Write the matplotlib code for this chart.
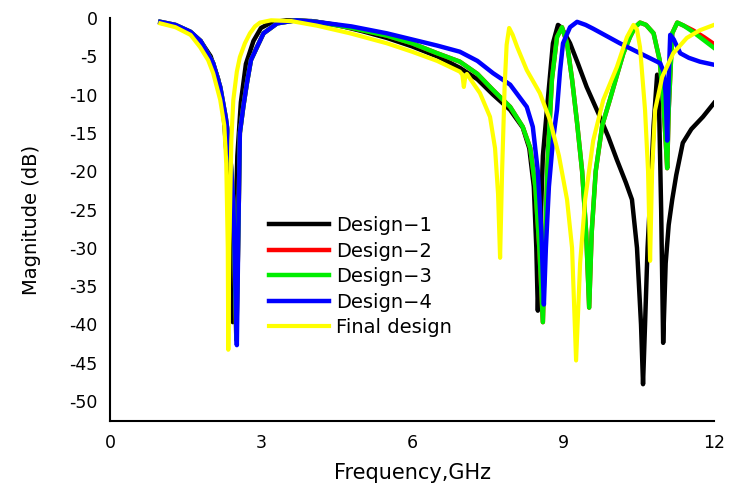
import matplotlib
matplotlib.use("Agg")
import matplotlib.pyplot as plt

plt.rcParams["font.family"] = ["DejaVu Sans"]
plt.rcParams["axes.unicode_minus"] = False

# Design-1
f1 = [1.0, 1.3, 1.6, 1.8, 2.0, 2.15, 2.25, 2.33, 2.39, 2.44, 2.48, 2.53, 2.6, 2.7, 2.85, 3.0, 3.2, 3.5,
      4.0, 4.5, 5.0, 5.5, 6.0, 6.5, 6.95, 7.3, 7.61, 7.95, 8.2, 8.33, 8.42, 8.47, 8.5, 8.54, 8.6, 8.68,
      8.8, 8.9, 8.96, 9.05, 9.14, 9.3, 9.47, 9.7, 9.9, 10.07, 10.25, 10.37, 10.47, 10.55, 10.59, 10.63,
      10.68, 10.73, 10.8, 10.87, 10.91, 10.95, 10.99, 11.04, 11.1, 11.17, 11.25, 11.38, 11.55, 11.78, 12.0]
m1 = [-0.6, -1.0, -1.9, -3.0, -5.0, -8.0, -12, -19, -30, -39.7, -30, -18, -11, -6.0, -3.0, -1.3, -0.6, -0.3,
      -0.4, -0.9, -1.7, -2.6, -3.7, -5.0, -6.5, -8.0, -10.0, -12.0, -14.3, -17, -22, -30, -38.2, -30, -18, -12,
      -3.3, -0.9, -1.2, -2.2, -3.3, -6.0, -9.0, -12.4, -15.5, -18.5, -21.5, -23.7, -30, -40, -47.8, -40,
      -30, -23.7, -14, -7.4, -12, -25, -42.4, -32, -27, -23.7, -20.5, -16.3, -14.5, -12.9, -11.1]

# Design-3
f3 = [1.0, 1.3, 1.6, 1.8, 2.05, 2.19, 2.3, 2.38, 2.45, 2.51, 2.55, 2.58, 2.65, 2.72, 2.8, 2.92, 3.05, 3.32,
      3.7, 4.1, 4.8, 5.5, 6.0, 6.5, 6.95, 7.3, 7.61, 7.95, 8.2, 8.35, 8.45, 8.53, 8.6, 8.64, 8.7, 8.78,
      8.88, 8.98, 9.08, 9.18, 9.28, 9.38, 9.46, 9.52, 9.57, 9.65, 9.78, 9.93, 10.07, 10.2, 10.33, 10.43,
      10.53, 10.65, 10.8, 10.92, 10.99, 11.04, 11.07, 11.1, 11.17, 11.27, 11.4, 11.58, 11.8, 12.0]
m3 = [-0.5, -0.9, -1.8, -3.0, -5.9, -9, -13, -17, -24, -42, -28, -15, -11.5, -8.5, -5.5, -3.8, -2.0, -0.7,
      -0.3, -0.5, -1.3, -2.3, -3.3, -4.6, -5.7, -7.3, -9.4, -11.6, -14.2, -17, -22, -30, -39.7, -30, -18, -8,
      -2.5, -1.2, -3.3, -8, -13.7, -20, -28, -37.8, -28, -20, -14, -10.7, -7.5, -4.6, -2.5, -1.2,
      -0.6, -0.9, -2.0, -5.5, -10.7, -16, -19.6, -12, -2, -0.6, -1.0, -1.8, -2.9, -3.9]

# Design-2 (almost on top of Design-3)
f2 = f3
m2 = m3[:-3] + [-1.6, -2.5, -3.4]

# Design-4
f4 = [1.0, 1.3, 1.6, 1.8, 2.05, 2.19, 2.3, 2.38, 2.45, 2.52, 2.55, 2.58, 2.65, 2.72, 2.8, 2.92, 3.05, 3.32,
      3.7, 4.1, 4.8, 5.5, 6.0, 6.5, 6.95, 7.3, 7.61, 7.95, 8.28, 8.4, 8.5, 8.57, 8.62, 8.66, 8.72, 8.8,
      8.88, 8.94, 9.0, 9.14, 9.28, 9.45, 9.6, 9.74, 10.13, 10.53, 10.93, 11.0, 11.04, 11.07, 11.1, 11.13,
      11.2, 11.33, 11.5, 11.72, 12.0]
m4 = [-0.5, -0.9, -1.8, -3.0, -5.9, -9, -13, -17, -24, -42.7, -28, -15, -11.5, -8.5, -5.5, -3.8, -2.0, -0.7,
      -0.3, -0.5, -1.1, -2.0, -2.8, -3.6, -4.4, -5.6, -7.2, -8.7, -11.6, -14.2, -20, -28, -37.4, -30, -22, -16,
      -12, -7, -3.3, -1.2, -0.5, -0.9, -1.4, -1.9, -3.3, -4.6, -5.9, -7, -10, -16, -8, -2.2,
      -2.8, -4.6, -5.2, -5.7, -6.1]

# Final design
f5 = [1.0, 1.3, 1.6, 1.79, 1.95, 2.05, 2.19, 2.27, 2.31, 2.34, 2.35, 2.37, 2.41, 2.45, 2.52, 2.58, 2.68,
      2.78, 2.88, 2.98, 3.2, 3.6, 4.11, 4.77, 5.5, 6.0, 6.5, 6.95, 7.0, 7.03, 7.06, 7.09, 7.35, 7.55, 7.65,
      7.71, 7.75, 7.79, 7.84, 7.88, 7.93, 8.0, 8.09, 8.28, 8.54, 8.74, 8.92, 9.08, 9.18, 9.26, 9.34, 9.44,
      9.6, 9.8, 10.07, 10.27, 10.4, 10.47, 10.53, 10.63, 10.69, 10.73, 10.77, 10.83, 10.97, 11.19, 11.46,
      11.72, 12.0]
m5 = [-0.7, -1.2, -2.2, -3.8, -5.5, -7.2, -10.7, -14, -19, -30, -43.3, -30, -16, -10.7, -7, -5.1, -3.3,
      -2.0, -1.1, -0.6, -0.3, -0.4, -1.0, -2.0, -3.3, -4.4, -5.6, -7.0, -7.4, -9.0, -7.6, -7.3, -9.8, -12.9, -17,
      -23, -31.3, -20, -9, -3.5, -1.3, -2.2, -3.8, -6.8, -9.8, -13.3, -18, -23.7, -30, -44.7, -32, -23.7,
      -16, -10.7, -6.4, -2.5, -0.9, -1.5, -3.8, -12, -20, -31.7, -20, -12, -7.7, -4.6, -2.6,
      -1.6, -0.9]

fig = plt.figure(figsize=(7.29, 4.83), dpi=100)
ax = fig.add_axes([110 / 729, 1 - 421 / 483, 604 / 729, 403 / 483])

ax.plot(f1, m1, color="black", lw=3.2, label="Design\u22121")
ax.plot(f2, m2, color="#ff0000", lw=3.2, label="Design\u22122")
ax.plot(f3, m3, color="#00ee00", lw=3.2, label="Design\u22123")
ax.plot(f4, m4, color="#0000ff", lw=3.2, label="Design\u22124")
ax.plot(f5, m5, color="#ffff00", lw=3.0, label="Final design")

ax.set_xlim(0, 12)
ax.set_ylim(-52.6, 0)
ax.set_xticks([0, 3, 6, 9, 12])
ax.set_yticks(range(0, -51, -5))
ax.tick_params(length=0, labelsize=12.5, pad=9)
for s in ["top", "right"]:
    ax.spines[s].set_visible(False)
for s in ["left", "bottom"]:
    ax.spines[s].set_linewidth(1.5)

ax.set_xlabel("Frequency,GHz", fontsize=15, labelpad=8)
ax.set_ylabel("Magnitude (dB)", fontsize=14, labelpad=20)

ax.legend(loc="upper left", bbox_to_anchor=(0.263, 0.508), frameon=False, fontsize=14,
          handlelength=3.1, handletextpad=0.35, labelspacing=0.33, borderpad=0, borderaxespad=0)

fig.savefig("out.png", dpi=100)
